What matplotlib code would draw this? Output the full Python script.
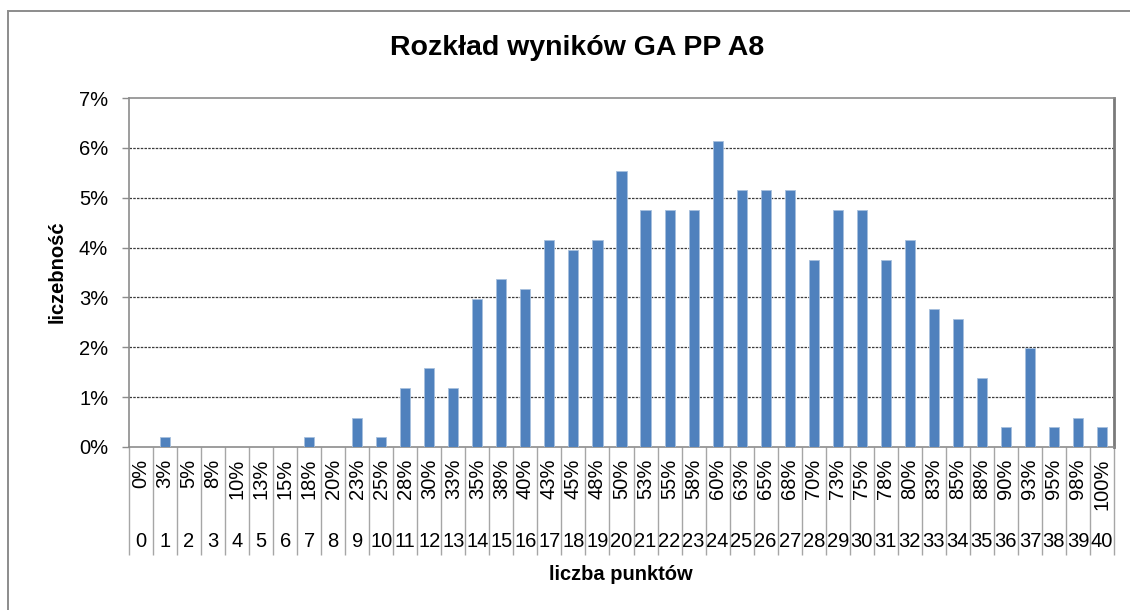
import matplotlib
matplotlib.use('Agg')
import matplotlib.pyplot as plt
from matplotlib.patches import Rectangle
from matplotlib.transforms import blended_transform_factory

# data (share of results, in %)
points = list(range(41))
pct_labels = ['0%', '3%', '5%', '8%', '10%', '13%', '15%', '18%', '20%', '23%',
              '25%', '28%', '30%', '33%', '35%', '38%', '40%', '43%', '45%', '48%',
              '50%', '53%', '55%', '58%', '60%', '63%', '65%', '68%', '70%', '73%',
              '75%', '78%', '80%', '83%', '85%', '88%', '90%', '93%', '95%', '98%',
              '100%']
share = [0.00, 0.20, 0.00, 0.00, 0.00, 0.00, 0.00, 0.20, 0.00, 0.59,
         0.20, 1.19, 1.58, 1.19, 2.97, 3.37, 3.17, 4.16, 3.96, 4.16,
         5.54, 4.75, 4.75, 4.75, 6.14, 5.15, 5.15, 5.15, 3.76, 4.75,
         4.75, 3.76, 4.16, 2.77, 2.57, 1.39, 0.40, 1.98, 0.40, 0.59,
         0.40]

plt.rcParams['font.family'] = ['Liberation Sans', 'DejaVu Sans']

W, H = 1130, 610
fig = plt.figure(figsize=(W / 100, H / 100), dpi=100)
fig.patch.set_facecolor('white')

# outer chart frame
fig.add_artist(Rectangle((8 / W, -0.05), 1.1, 1 - 11 / H + 0.05,
                         transform=fig.transFigure, fill=False,
                         edgecolor='#8c8c8c', linewidth=1.4))

left, right, top, bottom = 129, 1114, 98, 447
ax = fig.add_axes([left / W, (H - bottom) / H, (right - left) / W, (bottom - top) / H])

ax.bar(points, share, width=0.42, color='#4f81bd', edgecolor='#a7c0de',
       linewidth=0.6, zorder=3)

ax.set_xlim(-0.5, 40.5)
ax.set_ylim(0, 7)
ax.set_yticks(range(8))
ax.set_yticklabels([f'{v}%' for v in range(8)])

for v in range(1, 7):
    ax.axhline(v, color='#3a3a3a', linewidth=0.9, linestyle=(0, (2, 1)), zorder=1)

for s in ax.spines.values():
    s.set_color('#8c8c8c')
    s.set_linewidth(1.2)
ax.spines['right'].set_linewidth(2.0)
ax.spines['right'].set_color('#7a7a7a')

ax.tick_params(axis='y', direction='out', length=5, width=1, color='#8c8c8c',
               pad=10, labelsize=14.5)

# category separators running down through the label rows
ax.set_xticks([p - 0.5 for p in points] + [40.5], minor=True)
ax.tick_params(axis='x', which='minor', direction='out', length=78, width=1,
               color='#a6a6a6')
ax.set_xticks(points)
ax.set_xticklabels(pct_labels, rotation=90, va='top', ha='center')
ax.tick_params(axis='x', which='major', length=0, pad=8.5, labelsize=14.5)

trans = blended_transform_factory(ax.transData, ax.transAxes)
for p in points:
    ax.text(p, -0.272, str(p), transform=trans, ha='center', va='center',
            fontsize=14.5)

fig.text(577 / W, 1 - 48 / H, 'Rozkład wyników GA PP A8', ha='center', va='center',
         fontsize=20.5, fontweight='bold')
fig.text(621 / W, 1 - 575 / H, 'liczba punktów', ha='center', va='center',
         fontsize=14.5, fontweight='bold')
fig.text(57 / W, 1 - 272 / H, 'liczebność', ha='center', va='center',
         rotation=90, fontsize=14.5, fontweight='bold')

fig.savefig('out.png', dpi=100)
